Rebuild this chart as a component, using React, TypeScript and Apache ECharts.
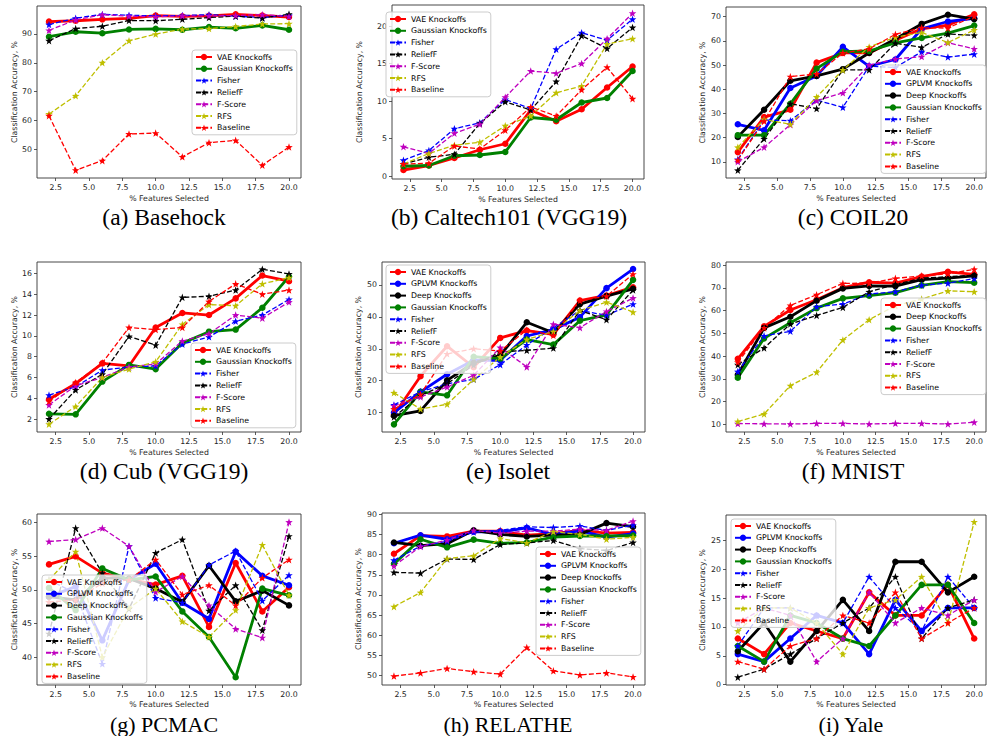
import React, { useEffect, useRef } from "react";
import * as echarts from "echarts";

// ---------- shared axis values ----------
const pctSelected = [2, 4, 6, 8, 10, 12, 14, 16, 18, 20];
const xTickValues = [2.5, 5, 7.5, 10, 12.5, 15, 17.5, 20];

// ---------- (a) Basehock ----------
const basehockYTicks = [40, 50, 60, 70, 80, 90];
const basehockVAE = [94.2, 94.5, 95.0, 95.3, 96.3, 96.0, 96.2, 96.7, 96.3, 95.8];
const basehockGaussian = [89.0, 90.7, 90.2, 91.5, 91.7, 91.4, 92.3, 91.9, 92.9, 91.4];
const basehockFisher = [93.2, 95.4, 96.7, 96.4, 96.2, 96.3, 96.6, 96.1, 95.6, 96.4];
const basehockReliefF = [87.6, 91.8, 92.6, 94.6, 94.5, 95.0, 95.6, 96.1, 95.4, 96.8];
const basehockFScore = [91.2, 94.8, 96.6, 96.1, 95.9, 96.2, 96.2, 96.3, 96.6, 96.0];
const basehockRFS = [62.3, 68.6, 80.0, 87.6, 89.9, 91.6, 91.8, 92.5, 93.4, 93.5];
const basehockBaseline = [61.7, 42.9, 46.2, 55.4, 55.7, 47.5, 52.4, 53.2, 44.6, 50.9];

// ---------- (b) Caltech101 (VGG19) ----------
const caltechYTicks = [0, 5, 10, 15, 20];
const caltechVAE = [0.8, 1.4, 2.4, 3.5, 4.3, 8.8, 7.3, 8.9, 11.8, 14.6];
const caltechGaussian = [1.3, 1.4, 2.7, 2.8, 3.2, 7.8, 7.5, 9.8, 10.4, 14.0];
const caltechFisher = [2.1, 3.4, 6.3, 7.1, 10.2, 9.0, 16.9, 19.1, 18.1, 20.9];
const caltechReliefF = [1.6, 2.5, 2.9, 7.0, 9.9, 8.8, 12.6, 18.7, 17.0, 19.8];
const caltechFScore = [3.9, 3.0, 5.7, 6.9, 10.5, 14.0, 13.7, 15.0, 18.3, 21.7];
const caltechRFS = [1.6, 3.0, 4.1, 4.5, 6.7, 8.0, 11.1, 12.0, 17.6, 18.3];
const caltechBaseline = [1.6, 1.7, 4.0, 3.6, 6.1, 9.2, 8.0, 11.5, 14.5, 10.3];

// ---------- (c) COIL20 ----------
const coilYTicks = [10, 20, 30, 40, 50, 60, 70];
const coilVAE = [14.0, 28.5, 31.5, 51.0, 55.0, 55.0, 60.3, 65.0, 66.5, 71.0];
const coilGPLVM = [25.5, 23.0, 40.5, 45.5, 57.5, 49.5, 52.3, 65.0, 68.0, 69.3];
const coilDeep = [20.3, 31.5, 43.5, 45.5, 48.3, 55.0, 60.8, 67.0, 70.8, 69.0];
const coilGaussian = [21.0, 21.0, 34.0, 48.5, 55.5, 55.8, 59.2, 61.2, 63.2, 66.3];
const coilFisher = [11.0, 27.3, 27.0, 35.5, 32.5, 49.5, 49.0, 55.5, 53.3, 54.5];
const coilReliefF = [6.5, 19.5, 34.0, 32.0, 48.0, 48.0, 59.0, 57.3, 62.8, 62.3];
const coilFScore = [10.0, 16.0, 25.3, 35.3, 38.5, 50.0, 52.5, 53.5, 59.2, 56.7];
const coilRFS = [16.0, 27.5, 25.5, 36.8, 48.0, 57.5, 61.5, 63.5, 59.3, 64.5];
const coilBaseline = [10.7, 26.8, 45.2, 46.3, 55.0, 56.7, 62.7, 65.4, 65.3, 70.2];

// ---------- (d) Cub (VGG19) ----------
const cubYTicks = [2, 4, 6, 8, 10, 12, 14, 16];
const cubVAE = [3.9, 5.4, 7.35, 7.1, 10.8, 12.2, 12.0, 13.6, 15.8, 15.25];
const cubGaussian = [2.5, 2.45, 5.6, 7.2, 6.8, 9.3, 10.4, 10.6, 12.7, 15.7];
const cubFisher = [4.3, 5.1, 6.7, 7.0, 7.1, 9.2, 9.9, 11.4, 12.0, 13.5];
const cubReliefF = [2.0, 4.8, 6.3, 9.95, 9.1, 13.7, 13.8, 14.4, 16.4, 15.95];
const cubFScore = [3.35, 5.2, 6.0, 7.0, 7.3, 9.5, 10.2, 12.0, 11.7, 13.25];
const cubRFS = [1.5, 3.2, 6.0, 6.8, 7.5, 11.1, 13.0, 12.9, 15.0, 15.6];
const cubBaseline = [3.7, 5.5, 7.4, 10.8, 10.6, 10.8, 13.3, 15.0, 14.0, 14.4];

// ---------- (e) Isolet ----------
const isoletYTicks = [10, 20, 30, 40, 50];
const isoletVAE = [9.3, 21.4, 30.8, 24.2, 33.4, 35.7, 34.5, 45.1, 46.7, 49.3];
const isoletGPLVM = [10.0, 16.5, 22.0, 26.4, 26.4, 34.0, 36.0, 39.9, 49.0, 55.0];
const isoletDeep = [9.0, 10.5, 20.1, 25.6, 27.9, 38.3, 35.0, 44.0, 46.5, 48.8];
const isoletGaussian = [6.3, 16.5, 15.4, 27.5, 26.9, 32.9, 31.3, 38.8, 40.6, 51.6];
const isoletFisher = [12.4, 16.5, 19.0, 20.4, 25.0, 31.2, 36.6, 42.0, 40.5, 44.0];
const isoletReliefF = [8.6, 15.4, 19.0, 24.9, 29.0, 29.5, 30.2, 42.0, 39.1, 48.4];
const isoletFScore = [12.1, 14.9, 18.0, 21.7, 30.4, 24.3, 37.7, 36.6, 41.7, 45.9];
const isoletRFS = [16.2, 11.1, 12.6, 20.4, 27.4, 32.9, 35.4, 42.0, 44.6, 41.5];
const isoletBaseline = [11.1, 15.7, 28.4, 30.0, 29.3, 35.9, 34.2, 45.1, 46.5, 53.4];

// ---------- (f) MNIST ----------
const mnistYTicks = [10, 20, 30, 40, 50, 60, 70, 80];
const mnistVAE = [38.8, 53.1, 60.3, 64.8, 70.1, 72.5, 72.1, 75.0, 77.1, 76.0];
const mnistDeep = [31.8, 52.4, 57.3, 64.4, 69.8, 70.9, 70.8, 73.6, 74.3, 75.3];
const mnistGaussian = [30.5, 47.8, 54.7, 61.1, 65.4, 66.6, 67.9, 71.1, 72.8, 72.3];
const mnistFisher = [33.2, 48.9, 50.9, 61.7, 62.9, 67.3, 68.3, 71.2, 72.1, 74.1];
const mnistReliefF = [36.2, 43.6, 54.1, 57.9, 61.4, 68.3, 71.5, 74.3, 74.9, 75.6];
const mnistFScore = [10.3, 10.2, 10.1, 10.4, 10.4, 10.1, 10.4, 10.4, 10.1, 10.9];
const mnistRFS = [11.2, 14.5, 27.0, 32.9, 47.1, 56.0, 62.2, 65.1, 68.7, 68.3];
const mnistBaseline = [37.3, 52.4, 62.3, 67.0, 72.0, 72.1, 74.2, 75.3, 76.2, 78.2];

// ---------- (g) PCMAC ----------
const pcmacYTicks = [40, 45, 50, 55, 60];
const pcmacVAE = [53.8, 55.0, 52.5, 51.6, 50.8, 52.1, 44.5, 54.0, 46.8, 50.4];
const pcmacGPLVM = [49.0, 50.5, 42.5, 51.5, 53.9, 48.1, 45.7, 55.7, 52.1, 50.7];
const pcmacDeep = [49.0, 48.5, 51.8, 51.7, 50.2, 48.2, 53.6, 48.3, 49.9, 47.7];
const pcmacGaussian = [50.3, 47.0, 53.2, 51.5, 52.0, 46.8, 43.0, 37.0, 50.2, 49.2];
const pcmacFisher = [51.5, 49.5, 39.0, 56.5, 48.8, 48.1, 53.7, 55.8, 48.4, 52.2];
const pcmacReliefF = [43.5, 59.2, 52.5, 47.2, 55.5, 57.5, 46.9, 50.7, 44.0, 58.0];
const pcmacFScore = [57.2, 57.5, 59.2, 56.5, 49.7, 52.0, 47.7, 44.2, 42.9, 60.1];
const pcmacRFS = [51.5, 55.7, 40.0, 47.3, 50.2, 45.3, 43.0, 47.0, 56.7, 49.2];
const pcmacBaseline = [48.2, 48.5, 51.0, 51.5, 54.5, 49.3, 50.7, 47.7, 51.8, 54.5];

// ---------- (h) RELATHE ----------
const relatheYTicks = [50, 55, 60, 65, 70, 75, 80, 85, 90];
const relatheVAE = [80.2, 84.7, 84.5, 85.8, 85.8, 84.8, 85.2, 86.0, 85.3, 85.5];
const relatheGPLVM = [82.8, 84.8, 83.8, 85.7, 85.6, 86.6, 85.0, 85.9, 84.3, 85.2];
const relatheDeep = [83.0, 82.2, 82.7, 86.0, 85.0, 84.5, 84.8, 85.0, 87.8, 86.9];
const relatheGaussian = [77.7, 83.8, 81.8, 83.7, 82.8, 83.0, 84.3, 84.6, 84.6, 84.7];
const relatheFisher = [78.6, 82.1, 83.3, 85.6, 86.0, 86.9, 86.7, 87.1, 86.0, 87.3];
const relatheReliefF = [75.6, 75.4, 78.9, 78.8, 82.5, 82.9, 83.5, 81.5, 81.0, 83.0];
const relatheFScore = [77.2, 82.0, 83.6, 86.0, 85.3, 85.8, 85.8, 86.3, 86.0, 88.3];
const relatheRFS = [67.1, 70.6, 79.0, 79.7, 84.0, 82.9, 85.7, 85.0, 83.8, 84.3];
const relatheBaseline = [49.9, 50.7, 51.8, 51.0, 50.4, 57.0, 51.2, 50.2, 50.7, 49.7];

// ---------- (i) Yale ----------
const yaleYTicks = [0, 5, 10, 15, 20, 25];
const yaleVAE = [8.0, 5.3, 10.7, 9.3, 8.0, 16.0, 12.0, 12.0, 17.3, 8.0];
const yaleGPLVM = [5.3, 4.0, 8.0, 12.0, 10.7, 5.3, 14.7, 9.3, 13.3, 13.3];
const yaleDeep = [5.8, 10.7, 4.0, 9.3, 14.7, 9.3, 21.3, 21.3, 16.0, 18.7];
const yaleGaussian = [6.7, 4.0, 12.0, 10.7, 8.0, 6.7, 12.0, 17.3, 17.3, 10.7];
const yaleFisher = [6.7, 13.3, 13.3, 12.0, 10.7, 18.7, 13.3, 9.3, 18.7, 13.3];
const yaleReliefF = [1.3, 2.7, 5.3, 8.0, 10.7, 13.3, 18.7, 8.0, 13.3, 14.7];
const yaleFScore = [10.7, 13.3, 12.0, 4.0, 8.0, 16.0, 10.7, 13.3, 12.0, 14.7];
const yaleRFS = [9.3, 13.3, 13.3, 10.7, 5.3, 13.3, 14.7, 18.7, 10.7, 28.2];
const yaleBaseline = [4.0, 2.7, 6.7, 8.0, 12.0, 10.7, 16.0, 8.0, 10.7, 13.3];

// ---------- styling ----------
const STAR =
  "path://M0,-10L2.35,-3.24L9.51,-3.09L3.8,1.24L5.88,8.09L0,4L-5.88,8.09L-3.8,1.24L-9.51,-3.09L-2.35,-3.24Z";

const METHOD_STYLE: Record<string, { color: string; solid: boolean }> = {
  "VAE Knockoffs": { color: "#ff0000", solid: true },
  "GPLVM Knockoffs": { color: "#0000ff", solid: true },
  "Deep Knockoffs": { color: "#000000", solid: true },
  "Gaussian Knockoffs": { color: "#008000", solid: true },
  Fisher: { color: "#0000ff", solid: false },
  ReliefF: { color: "#000000", solid: false },
  "F-Score": { color: "#bf00bf", solid: false },
  RFS: { color: "#bfbf00", solid: false },
  Baseline: { color: "#ff0000", solid: false },
};

type Panel = {
  caption: string;
  series: [string, number[]][];
  yMin: number;
  yMax: number;
  yTicks: number[];
  grid: { left: number; top: number; width: number; height: number };
  legend: { left: number; top: number };
  yGap: number;
  xGap: number;
  cap: [number, number];
  capSize: number;
};

const PANELS: Panel[] = [
  {
    caption: "(a) Basehock",
    series: [
      ["VAE Knockoffs", basehockVAE],
      ["Gaussian Knockoffs", basehockGaussian],
      ["Fisher", basehockFisher],
      ["ReliefF", basehockReliefF],
      ["F-Score", basehockFScore],
      ["RFS", basehockRFS],
      ["Baseline", basehockBaseline],
    ],
    yMin: 40.2, yMax: 99.6, yTicks: basehockYTicks,
    grid: { left: 37, top: 6, width: 264, height: 172 },
    legend: { left: 192, top: 50 }, yGap: 19, xGap: 16, cap: [164, 217], capSize: 23.5,
  },
  {
    caption: "(b) Caltech101 (VGG19)",
    series: [
      ["VAE Knockoffs", caltechVAE],
      ["Gaussian Knockoffs", caltechGaussian],
      ["Fisher", caltechFisher],
      ["ReliefF", caltechReliefF],
      ["F-Score", caltechFScore],
      ["RFS", caltechRFS],
      ["Baseline", caltechBaseline],
    ],
    yMin: -0.4, yMax: 22.8, yTicks: caltechYTicks,
    grid: { left: 392, top: 5, width: 252, height: 174 },
    legend: { left: 386, top: 12 }, yGap: 29, xGap: 16, cap: [509, 217], capSize: 23.5,
  },
  {
    caption: "(c) COIL20",
    series: [
      ["VAE Knockoffs", coilVAE],
      ["GPLVM Knockoffs", coilGPLVM],
      ["Deep Knockoffs", coilDeep],
      ["Gaussian Knockoffs", coilGaussian],
      ["Fisher", coilFisher],
      ["ReliefF", coilReliefF],
      ["F-Score", coilFScore],
      ["RFS", coilRFS],
      ["Baseline", coilBaseline],
    ],
    yMin: 3.3, yMax: 74.0, yTicks: coilYTicks,
    grid: { left: 726, top: 7, width: 260, height: 171 },
    legend: { left: 881, top: 65 }, yGap: 20, xGap: 16, cap: [853, 217], capSize: 23.5,
  },
  {
    caption: "(d) Cub (VGG19)",
    series: [
      ["VAE Knockoffs", cubVAE],
      ["Gaussian Knockoffs", cubGaussian],
      ["Fisher", cubFisher],
      ["ReliefF", cubReliefF],
      ["F-Score", cubFScore],
      ["RFS", cubRFS],
      ["Baseline", cubBaseline],
    ],
    yMin: 0.75, yMax: 17.1, yTicks: cubYTicks,
    grid: { left: 37, top: 262, width: 264, height: 170 },
    legend: { left: 191, top: 343 }, yGap: 19, xGap: 16, cap: [164, 471], capSize: 23.5,
  },
  {
    caption: "(e) Isolet",
    series: [
      ["VAE Knockoffs", isoletVAE],
      ["GPLVM Knockoffs", isoletGPLVM],
      ["Deep Knockoffs", isoletDeep],
      ["Gaussian Knockoffs", isoletGaussian],
      ["Fisher", isoletFisher],
      ["ReliefF", isoletReliefF],
      ["F-Score", isoletFScore],
      ["RFS", isoletRFS],
      ["Baseline", isoletBaseline],
    ],
    yMin: 3.9, yMax: 57.2, yTicks: isoletYTicks,
    grid: { left: 382, top: 262, width: 263, height: 170 },
    legend: { left: 386, top: 265 }, yGap: 19.5, xGap: 16, cap: [508, 471], capSize: 23.5,
  },
  {
    caption: "(f) MNIST",
    series: [
      ["VAE Knockoffs", mnistVAE],
      ["Deep Knockoffs", mnistDeep],
      ["Gaussian Knockoffs", mnistGaussian],
      ["Fisher", mnistFisher],
      ["ReliefF", mnistReliefF],
      ["F-Score", mnistFScore],
      ["RFS", mnistRFS],
      ["Baseline", mnistBaseline],
    ],
    yMin: 6.6, yMax: 81.4, yTicks: mnistYTicks,
    grid: { left: 726, top: 262, width: 260, height: 170 },
    legend: { left: 881, top: 298 }, yGap: 20, xGap: 16, cap: [853, 471], capSize: 23.5,
  },
  {
    caption: "(g) PCMAC",
    series: [
      ["VAE Knockoffs", pcmacVAE],
      ["GPLVM Knockoffs", pcmacGPLVM],
      ["Deep Knockoffs", pcmacDeep],
      ["Gaussian Knockoffs", pcmacGaussian],
      ["Fisher", pcmacFisher],
      ["ReliefF", pcmacReliefF],
      ["F-Score", pcmacFScore],
      ["RFS", pcmacRFS],
      ["Baseline", pcmacBaseline],
    ],
    yMin: 35.85, yMax: 61.3, yTicks: pcmacYTicks,
    grid: { left: 37, top: 514, width: 264, height: 171 },
    legend: { left: 42, top: 575 }, yGap: 19, xGap: 15, cap: [164, 724.5], capSize: 22,
  },
  {
    caption: "(h) RELATHE",
    series: [
      ["VAE Knockoffs", relatheVAE],
      ["GPLVM Knockoffs", relatheGPLVM],
      ["Deep Knockoffs", relatheDeep],
      ["Gaussian Knockoffs", relatheGaussian],
      ["Fisher", relatheFisher],
      ["ReliefF", relatheReliefF],
      ["F-Score", relatheFScore],
      ["RFS", relatheRFS],
      ["Baseline", relatheBaseline],
    ],
    yMin: 47.7, yMax: 90.3, yTicks: relatheYTicks,
    grid: { left: 382, top: 513, width: 263, height: 172 },
    legend: { left: 536, top: 547 }, yGap: 19.5, xGap: 15, cap: [508, 724.5], capSize: 22,
  },
  {
    caption: "(i) Yale",
    series: [
      ["VAE Knockoffs", yaleVAE],
      ["GPLVM Knockoffs", yaleGPLVM],
      ["Deep Knockoffs", yaleDeep],
      ["Gaussian Knockoffs", yaleGaussian],
      ["Fisher", yaleFisher],
      ["ReliefF", yaleReliefF],
      ["F-Score", yaleFScore],
      ["RFS", yaleRFS],
      ["Baseline", yaleBaseline],
    ],
    yMin: -0.05, yMax: 29.4, yTicks: yaleYTicks,
    grid: { left: 726, top: 515, width: 260, height: 170 },
    legend: { left: 731, top: 519 }, yGap: 20, xGap: 15, cap: [851, 724.5], capSize: 22,
  },
];

const FONT = "DejaVu Sans";
const FS = 7.8;
const INK = "#262626";

function buildOption() {
  const grid: any[] = [];
  const xAxis: any[] = [];
  const yAxis: any[] = [];
  const legend: any[] = [];
  const series: any[] = [];
  const graphic: any[] = [];

  PANELS.forEach((p, i) => {
    grid.push({
      ...p.grid,
      show: true,
      borderColor: "#333",
      borderWidth: 0.9,
      backgroundColor: "transparent",
      containLabel: false,
    });
    xAxis.push({
      type: "value",
      gridIndex: i,
      min: 1.1,
      max: 20.9,
      axisLine: { show: false, onZero: false },
      splitLine: { show: false },
      axisTick: { show: true, length: 3, customValues: xTickValues, lineStyle: { color: "#333", width: 0.8 } },
      axisLabel: {
        customValues: xTickValues,
        formatter: (v: number) => v.toFixed(1),
        fontFamily: FONT,
        fontSize: FS,
        color: INK,
        margin: 5,
      },
      name: "% Features Selected",
      nameLocation: "middle",
      nameGap: p.xGap,
      nameTextStyle: { fontFamily: FONT, fontSize: FS, color: INK },
    });
    yAxis.push({
      type: "value",
      gridIndex: i,
      min: p.yMin,
      max: p.yMax,
      axisLine: { show: false, onZero: false },
      splitLine: { show: false },
      axisTick: { show: true, length: 3, customValues: p.yTicks, lineStyle: { color: "#333", width: 0.8 } },
      axisLabel: {
        customValues: p.yTicks,
        formatter: (v: number) => String(v),
        fontFamily: FONT,
        fontSize: FS,
        color: INK,
        margin: 5,
      },
      name: "Classification Accuracy, %",
      nameLocation: "middle",
      nameGap: p.yGap,
      nameTextStyle: { fontFamily: FONT, fontSize: FS, color: INK },
    });
    legend.push({
      left: p.legend.left,
      top: p.legend.top,
      orient: "vertical",
      data: p.series.map((s) => s[0]),
      itemWidth: 16,
      itemHeight: 8,
      itemGap: 3.8,
      padding: [3, 4, 3, 3],
      backgroundColor: "rgba(255,255,255,0.8)",
      borderColor: "#cccccc",
      borderWidth: 1,
      borderRadius: 3,
      selectedMode: false,
      textStyle: { fontFamily: FONT, fontSize: FS, color: "#000" },
    });
    p.series.forEach(([name, vals]) => {
      const st = METHOD_STYLE[name];
      series.push({
        type: "line",
        name,
        xAxisIndex: i,
        yAxisIndex: i,
        data: pctSelected.map((x, k) => [x, vals[k]]),
        symbol: st.solid ? "circle" : STAR,
        symbolSize: st.solid ? 6.5 : 7.5,
        showAllSymbol: true,
        lineStyle: {
          color: st.color,
          width: st.solid ? 2.8 : 1.3,
          type: st.solid ? "solid" : [5, 2.2],
        },
        itemStyle: { color: st.color, borderWidth: 0 },
        emphasis: { disabled: true },
        silent: true,
      });
    });
    graphic.push({
      type: "text",
      x: p.cap[0],
      y: p.cap[1],
      style: {
        text: p.caption,
        fontFamily: "Liberation Serif",
        fontSize: p.capSize,
        fill: "#000",
        align: "center",
        verticalAlign: "middle",
        textAlign: "center",
        textVerticalAlign: "middle",
      },
    });
  });

  return {
    animation: false,
    backgroundColor: "#ffffff",
    textStyle: { fontFamily: FONT },
    grid,
    xAxis,
    yAxis,
    legend,
    series,
    graphic,
  };
}

export default function App() {
  const ref = useRef<HTMLDivElement | null>(null);
  useEffect(() => {
    if (!ref.current) return;
    const chart = echarts.init(ref.current, null, { renderer: "svg" });
    chart.setOption(buildOption() as any);
    return () => chart.dispose();
  }, []);
  return (
    <div
      ref={ref}
      style={{ position: "absolute", left: 0, top: 0, width: 987, height: 736 }}
    />
  );
}
